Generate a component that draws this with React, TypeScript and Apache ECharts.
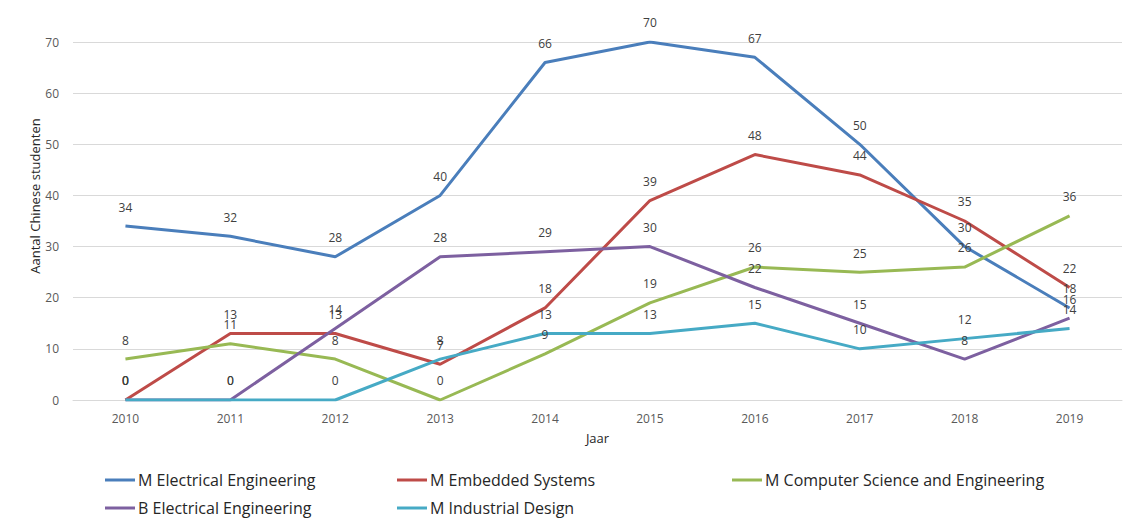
import React, { useEffect, useRef } from "react";
import * as echarts from "echarts";

const years = ["2010", "2011", "2012", "2013", "2014", "2015", "2016", "2017", "2018", "2019"];
const mElectrical = [34, 32, 28, 40, 66, 70, 67, 50, 30, 18];
const mEmbedded = [0, 13, 13, 7, 18, 39, 48, 44, 35, 22];
const mComputer = [8, 11, 8, 0, 9, 19, 26, 25, 26, 36];
const bElectrical = [0, 0, 14, 28, 29, 30, 22, 15, 8, 16];
const mIndustrial = [0, 0, 0, 8, 13, 13, 15, 10, 12, 14];

const names = [
  "M Electrical Engineering",
  "M Embedded Systems",
  "M Computer Science and Engineering",
  "B Electrical Engineering",
  "M Industrial Design",
];
const colors = ["#4a7ebb", "#be4b48", "#98b954", "#7d60a0", "#46aac5"];
const values = [mElectrical, mEmbedded, mComputer, bElectrical, mIndustrial];
const legendPos = [
  { left: 105, top: 472 },
  { left: 397, top: 472 },
  { left: 732, top: 472 },
  { left: 105, top: 500 },
  { left: 397, top: 500 },
];

const FONT = "'Open Sans', 'Noto Sans', sans-serif";

export default function App() {
  const ref = useRef<HTMLDivElement>(null);
  useEffect(() => {
    const chart = echarts.init(ref.current!, null, { renderer: "svg" });
    chart.setOption({
      animation: false,
      textStyle: { fontFamily: FONT },
      grid: { left: 73, right: 10, top: 42, bottom: 127 },
      legend: names.map((n, i) => ({
        data: [n],
        left: legendPos[i].left,
        top: legendPos[i].top,
        icon: "rect",
        itemWidth: 30,
        itemHeight: 3,
        itemGap: 0,
        padding: 0,
        textStyle: { fontFamily: FONT, fontSize: 16, color: "#262626", padding: [0, 0, 0, -2] },
      })),
      xAxis: {
        type: "category",
        data: years,
        boundaryGap: true,
        name: "Jaar",
        nameLocation: "middle",
        nameGap: 31,
        nameTextStyle: { fontFamily: FONT, fontSize: 13, color: "#262626" },
        axisLine: { lineStyle: { color: "#d9d9d9", width: 1 } },
        axisTick: { show: false },
        axisLabel: { color: "#595959", fontSize: 12, margin: 12, fontFamily: FONT },
      },
      yAxis: {
        type: "value",
        min: 0,
        max: 70,
        interval: 10,
        axisLine: { show: false },
        axisTick: { show: false },
        axisLabel: { color: "#595959", fontSize: 12, margin: 14, fontFamily: FONT },
        splitLine: { lineStyle: { color: "#d9d9d9", width: 1 } },
      },
      graphic: [
        {
          type: "text",
          x: 35,
          y: 196,
          rotation: Math.PI / 2,
          style: {
            text: "Aantal Chinese studenten",
            fontFamily: FONT,
            fontSize: 13,
            fill: "#262626",
            align: "center",
            verticalAlign: "middle",
          },
        },
      ],
      series: names.map((n, i) => ({
        name: n,
        type: "line",
        data: values[i],
        symbol: "circle",
        symbolSize: 0.1,
        showSymbol: true,
        lineStyle: { color: colors[i], width: 3 },
        itemStyle: { color: colors[i] },
        label: {
          show: true,
          position: "top",
          distance: 13,
          color: "#404040",
          fontSize: 12,
          fontFamily: FONT,
        },
        emphasis: { disabled: true },
      })),
    });
    return () => chart.dispose();
  }, []);
  return <div ref={ref} style={{ width: 1132, height: 527, position: "absolute", left: 0, top: 0 }} />;
}
